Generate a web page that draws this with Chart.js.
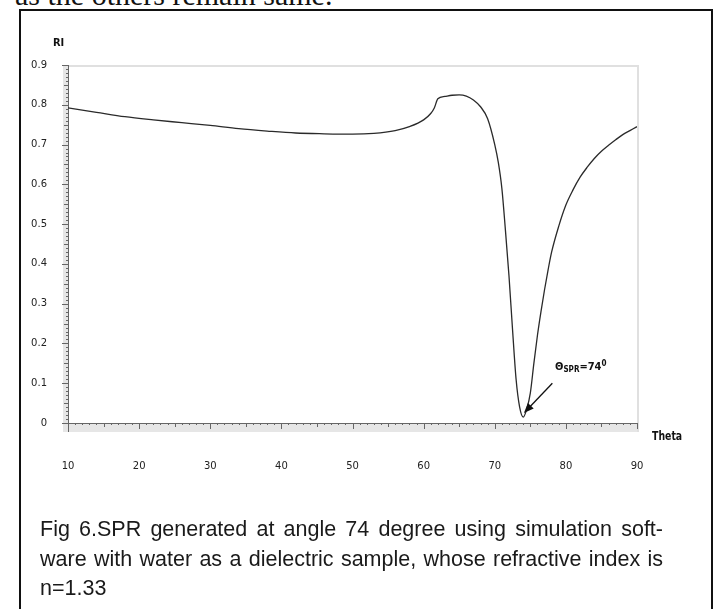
<!DOCTYPE html>
<html>
<head>
<meta charset="utf-8">
<script src="https://cdn.jsdelivr.net/npm/chart.js@4.4.1/dist/chart.umd.min.js"></script>
<style>
  body { margin: 0; width: 715px; height: 609px; overflow: hidden; background: #fff; position: relative; }
  #wrap { position: absolute; left: 0; top: 0; width: 715px; height: 609px; }
  #topline { position: absolute; left: 15px; top: -20px; font: 30px/30px "Liberation Serif", serif; color: #111; white-space: nowrap; }
  #frame { position: absolute; left: 19px; top: 9px; width: 690px; height: 700px; border: 2px solid #111; }
  .axt { position: absolute; font-family: "DejaVu Sans Condensed", sans-serif; font-weight: bold; color: #111; white-space: nowrap; transform-origin: 0 0; }
  #ann { position: absolute; left: 555px; top: 359px; font: bold 11px "DejaVu Sans Condensed", sans-serif; color: #111; white-space: nowrap; }
  #ann sub { font-size: 8px; vertical-align: -2px; }
  #ann sup { font-size: 8px; vertical-align: 4px; }
  .cap { position: absolute; left: 40px; width: 623px; font: 21.5px "Liberation Sans", Arial, sans-serif; color: #1a1a1a; white-space: nowrap; }
  .just { text-align: justify; text-align-last: justify; white-space: normal; }
</style>
</head>
<body>
<div id="topline">as the others remain same.</div>
<div id="frame"></div>
<div id="wrap"><canvas id="chart" width="715" height="609"></canvas></div>
<div class="axt" style="left:53px; top:36px; font-size:11px;">RI</div>
<div class="axt" style="left:652px; top:428px; font-size:13px; transform:scaleX(0.8);">Theta</div>
<div id="ann">&Theta;<sub>SPR</sub>=74<sup>0</sup></div>
<div class="cap just" style="top:517px;">Fig 6.SPR generated at angle 74 degree using simulation soft-</div>
<div class="cap just" style="top:546.5px;">ware with water as a dielectric sample, whose refractive index is</div>
<div class="cap" style="top:576px;">n=1.33</div>
<script>
// incidence angle (deg) and reflected intensity
const theta = [10, 14, 18, 22, 26, 30, 34, 38, 42, 46, 50, 53, 56, 58, 60, 61, 61.5, 62, 63, 64, 65, 66, 67, 68, 69,
  70, 70.5, 71, 71.5, 72, 72.5, 73, 73.5, 74, 74.5, 75, 75.5, 76, 76.5, 77, 77.5, 78, 79, 80, 81, 82, 83, 84, 85, 86, 87, 88, 89, 90];
const ri = [0.792, 0.781, 0.770, 0.762, 0.755, 0.748, 0.740, 0.734, 0.729, 0.727, 0.726, 0.728, 0.735, 0.745, 0.762, 0.778, 0.792, 0.815, 0.821, 0.824, 0.825, 0.822, 0.812, 0.795, 0.765,
  0.700, 0.655, 0.590, 0.485, 0.370, 0.235, 0.110, 0.040, 0.015, 0.035, 0.075, 0.150, 0.220, 0.280, 0.335, 0.385, 0.430, 0.495, 0.548, 0.586, 0.618, 0.643, 0.665, 0.683, 0.698, 0.712, 0.725, 0.735, 0.745];

const xTicks = [10, 20, 30, 40, 50, 60, 70, 80, 90];
const xTickLabels = ["10", "20", "30", "40", "50", "60", "70", "80", "90"];
const yTicks = [0, 0.1, 0.2, 0.3, 0.4, 0.5, 0.6, 0.7, 0.8, 0.9];
const yTickLabels = ["0", "0.1", "0.2", "0.3", "0.4", "0.5", "0.6", "0.7", "0.8", "0.9"];

// arrow pointing at the resonance dip (data coords)
const arrowFrom = [78.1, 0.1];
const arrowTo = [74.1, 0.025];

// --- axis decoration: gray bands, plot border, axis lines and minor ticks ---
const axisDeco = {
  id: "axisDeco",
  beforeDatasetsDraw(chart) {
    const { ctx, chartArea: a, scales: { x, y } } = chart;
    ctx.save();
    ctx.fillStyle = "#e6e6e6";
    ctx.fillRect(a.left - 5, a.bottom, a.right - a.left + 5, 9);
    ctx.fillRect(a.left - 5, a.top, 5, a.bottom - a.top + 9);

    ctx.strokeStyle = "#e0e0e0";
    ctx.lineWidth = 2;
    ctx.beginPath();
    ctx.moveTo(a.left, a.top + 1);
    ctx.lineTo(a.right + 1, a.top + 1);
    ctx.lineTo(a.right + 1, a.bottom + 9);
    ctx.stroke();

    ctx.strokeStyle = "#666";
    ctx.lineWidth = 1;
    ctx.beginPath();
    ctx.moveTo(a.left - 5, a.bottom + 0.5);
    ctx.lineTo(a.right, a.bottom + 0.5);
    ctx.moveTo(a.left + 0.5, a.top);
    ctx.lineTo(a.left + 0.5, a.bottom + 9);
    for (let i = 10; i <= 90; i++) {
      const px = Math.round(x.getPixelForValue(i)) + 0.5;
      const len = i % 10 === 0 ? 6 : i % 5 === 0 ? 4 : 2;
      ctx.moveTo(px, a.bottom);
      ctx.lineTo(px, a.bottom + len);
    }
    for (let i = 0; i <= 90; i++) {
      const py = Math.round(y.getPixelForValue(i / 100)) + 0.5;
      const len = i % 10 === 0 ? 6 : i % 5 === 0 ? 4 : 2;
      ctx.moveTo(a.left, py);
      ctx.lineTo(a.left - len, py);
    }
    ctx.stroke();
    ctx.restore();
  },
  afterDatasetsDraw(chart) {
    const { ctx, scales: { x, y } } = chart;
    const x0 = x.getPixelForValue(arrowFrom[0]), y0 = y.getPixelForValue(arrowFrom[1]);
    const x1 = x.getPixelForValue(arrowTo[0]), y1 = y.getPixelForValue(arrowTo[1]);
    const ang = Math.atan2(y1 - y0, x1 - x0);
    ctx.save();
    ctx.strokeStyle = "#111";
    ctx.fillStyle = "#111";
    ctx.lineWidth = 1.3;
    ctx.beginPath();
    ctx.moveTo(x0, y0);
    ctx.lineTo(x1 - 6 * Math.cos(ang), y1 - 6 * Math.sin(ang));
    ctx.stroke();
    ctx.beginPath();
    ctx.moveTo(x1, y1);
    ctx.lineTo(x1 - 10 * Math.cos(ang) + 4 * Math.sin(ang), y1 - 10 * Math.sin(ang) - 4 * Math.cos(ang));
    ctx.lineTo(x1 - 10 * Math.cos(ang) - 4 * Math.sin(ang), y1 - 10 * Math.sin(ang) + 4 * Math.cos(ang));
    ctx.closePath();
    ctx.fill();
    ctx.restore();
  }
};

const tickFont = { family: "DejaVu Sans", size: 10 };

new Chart(document.getElementById("chart"), {
  type: "line",
  data: {
    datasets: [{
      data: theta.map((t, i) => ({ x: t, y: ri[i] })),
      borderColor: "#2a2a2a",
      borderWidth: 1.3,
      pointRadius: 0,
      cubicInterpolationMode: "monotone",
      fill: false
    }]
  },
  options: {
    responsive: false,
    animation: false,
    devicePixelRatio: 1,
    layout: { padding: { left: 0, top: 65, right: 78, bottom: 0 } },
    plugins: { legend: { display: false }, tooltip: { enabled: false } },
    scales: {
      x: {
        type: "linear",
        min: 10,
        max: 90,
        afterFit: s => { s.height = 186; },
        afterBuildTicks: s => { s.ticks = xTicks.map(v => ({ value: v })); },
        grid: { display: false, drawTicks: false },
        border: { display: false },
        ticks: {
          padding: 37,
          color: "#222",
          font: tickFont,
          maxRotation: 0,
          autoSkip: false,
          callback: v => xTickLabels[xTicks.indexOf(v)]
        }
      },
      y: {
        min: 0,
        max: 0.9,
        afterFit: s => { s.width = 68; },
        afterBuildTicks: s => { s.ticks = yTicks.map(v => ({ value: v })); },
        grid: { display: false, drawTicks: false },
        border: { display: false },
        ticks: {
          padding: 21,
          color: "#222",
          font: tickFont,
          autoSkip: false,
          callback: v => yTickLabels[yTicks.findIndex(t => Math.abs(t - v) < 1e-9)]
        }
      }
    }
  },
  plugins: [axisDeco]
});
</script>
</body>
</html>
